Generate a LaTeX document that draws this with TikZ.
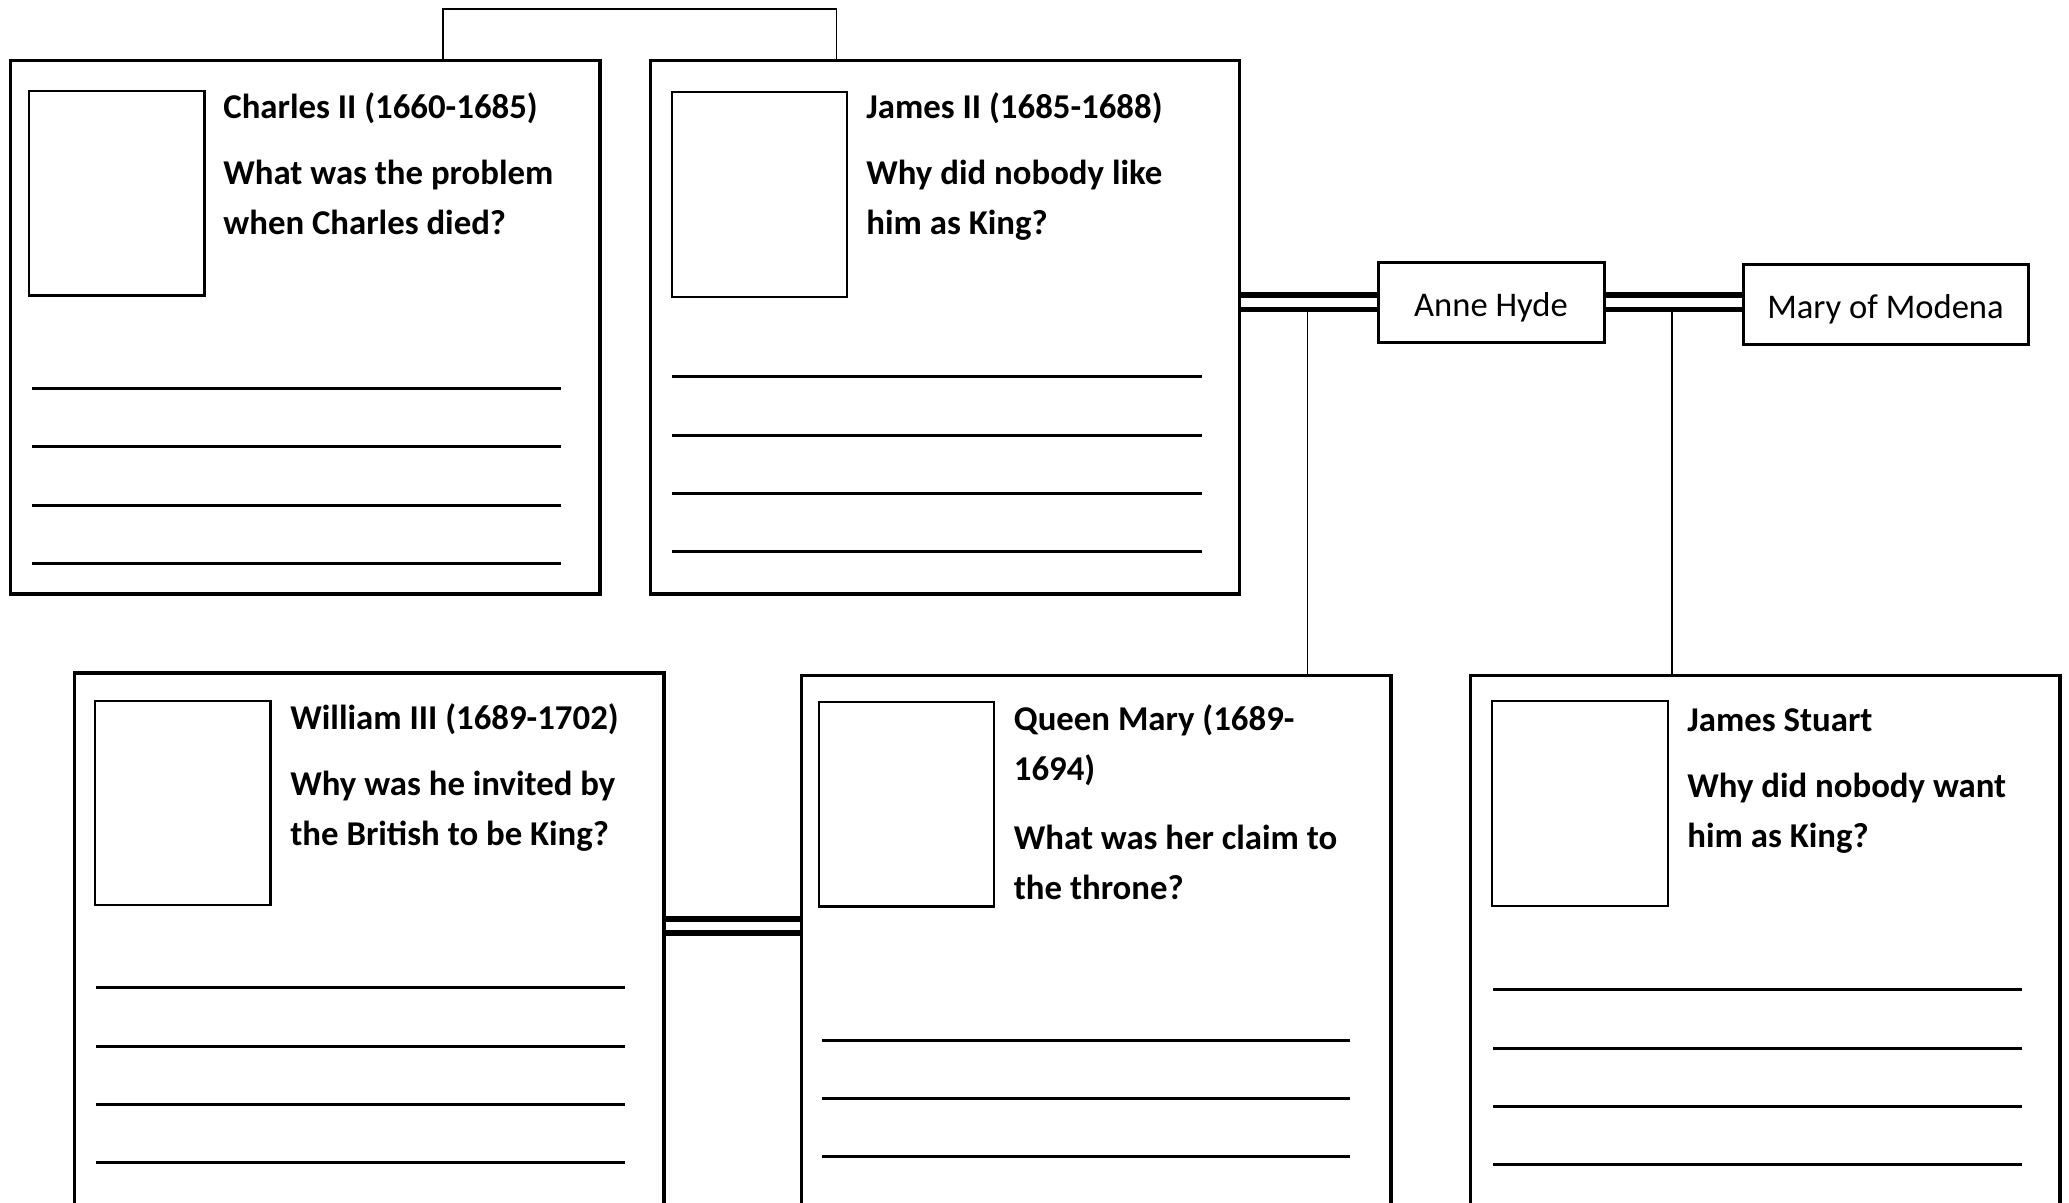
\documentclass[tikz,border=0pt]{standalone}
\usepackage{fontspec}
\setmainfont{Carlito}
\usetikzlibrary{backgrounds}

\begin{document}
\begin{tikzpicture}[x=0.5pt,y=-0.5pt]
  \tikzset{card/.style={draw,line width=1.7pt,minimum width=294.7pt,minimum height=266.7pt,inner sep=0pt},
    photo/.style={draw,line width=1.05pt,minimum width=87.7pt,minimum height=102.2pt,inner sep=0pt},
    info/.style={anchor=north west,inner sep=0pt,align=left,font=\bfseries\fontsize{17.4pt}{25pt}\selectfont},
    spouse/.style={draw,line width=1.5pt,minimum height=40pt,inner sep=0pt,text height=14pt,text depth=0pt,font=\fontsize{17.3pt}{25pt}\selectfont},
    ruled/.style={line width=1.5pt},
    wed/.style={double,double distance=4.25pt,line width=2.9pt},
    kin/.style={line width=0.8pt}}
  \useasboundingbox (0,0) rectangle (2069,1203);
  \clip (0,0) rectangle (2069,1203);

  % top row
  \node[card]  (charles) at (305.3,327.4) {};
  \node[photo] (charlesp) at (116.8,193.3) {};
  \node[info]  (charlest) at (223,83) {\strut Charles II (1660-1685)\\[8pt]What was the problem\\when Charles died?};
  \draw[ruled] (31.8,389) -- (561.4,389) (31.8,447) -- (561.4,447) (31.8,506) -- (561.4,506) (31.8,564) -- (561.4,564);

  \node[card]  (james) at (945,327.4) {};
  \node[photo] (jamesp) at (759.3,194.5) {};
  \node[info]  (jamest) at (866,83) {\strut James II (1685-1688)\\[8pt]Why did nobody like\\him as King?};
  \draw[ruled] (672.2,377) -- (1201.8,377) (672.2,435.6) -- (1201.8,435.6) (672.2,494) -- (1201.8,494) (672.2,552) -- (1201.8,552);

  \node[spouse,minimum width=113pt]   (anne) at (1491,302.3) {Anne Hyde};
  \node[spouse,minimum width=142.5pt] (modena) at (1885.5,304.5) {Mary of Modena};

  % bottom row
  \node[card]  (william) at (369.3,939.7) {};
  \node[photo] (williamp) at (182.8,802.9) {};
  \node[info]  (williamt) at (290,694) {\strut William III (1689-1702)\\[8pt]Why was he invited by\\the British to be King?};
  \draw[ruled] (96.4,987.6) -- (625,987.6) (96.4,1046.5) -- (625,1046.5) (96.4,1104.3) -- (625,1104.3) (96.4,1162.2) -- (625,1162.2);

  \node[card]  (mary) at (1096.2,942.3) {};
  \node[photo] (maryp) at (906.5,804.3) {};
  \node[info]  (maryt) at (1013.5,695) {\strut Queen Mary (1689-\\1694)\\[9.5pt]What was her claim to\\the throne?};
  \draw[ruled] (822.3,1040.5) -- (1350,1040.5) (822.3,1098.3) -- (1350,1098.3) (822.3,1156.2) -- (1350,1156.2);

  \node[card]  (stuart) at (1765.4,942.3) {};
  \node[photo] (stuartp) at (1580,803.5) {};
  \node[info]  (stuartt) at (1687,696) {\strut James Stuart\\[8pt]Why did nobody want\\him as King?};
  \draw[ruled] (1493,989.3) -- (2021.6,989.3) (1493,1048.6) -- (2021.6,1048.6) (1493,1106.4) -- (2021.6,1106.4) (1493,1164.3) -- (2021.6,1164.3);

  % family links
  \coordinate (bro1) at (443,9);
  \coordinate (bro2) at (836.6,9);
  \coordinate (ja) at (1307.6,311);
  \coordinate (jm) at (1672,311);
  \coordinate (wm) at (700,926);
  \draw[kin] (bro1 |- charles.north) -- (bro1) -- (bro2) -- (bro2 |- james.north);
  \begin{scope}[on background layer]
    \draw[wed] (james.east |- anne.west) -- (anne.west);
    \draw[wed] (anne.east) -- (anne.east -| modena.west);
    \draw[wed] (wm -| william.east) -- (wm -| mary.west);
  \end{scope}
  \draw[kin] (ja) -- (ja |- mary.north);
  \draw[kin] (jm) -- (jm |- stuart.north);
\end{tikzpicture}
\end{document}
